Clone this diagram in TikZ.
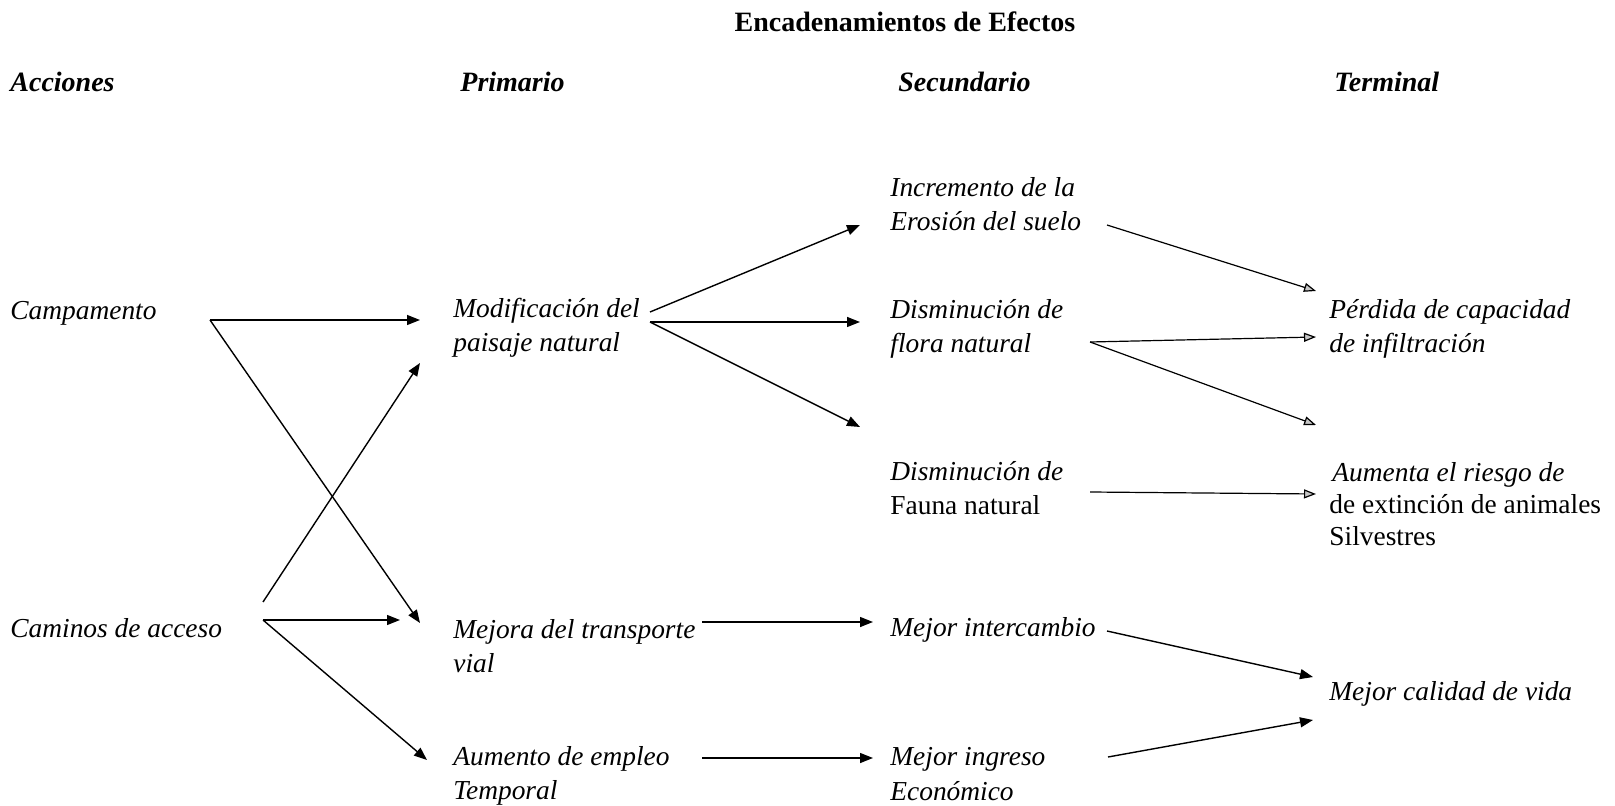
\documentclass[tikz,border=0pt]{standalone}
\usepackage{fontspec}
\setmainfont{Liberation Serif}
\usetikzlibrary{arrows.meta}

\begin{document}
\begin{tikzpicture}[
    x=0.5pt, y=-0.5pt,
    txt/.style={anchor=west, inner sep=0pt, align=left, font=\fontsize{13.7}{17.2}\selectfont\itshape},
    hdr/.style={anchor=west, inner sep=0pt, font=\fontsize{14}{16}\selectfont\bfseries\itshape},
    arr/.style={-{Triangle[length=6.5pt, width=5pt]}, line width=0.7pt},
    arrT/.style={-{Triangle[length=6pt, width=4.5pt, fill=gray!45]}, line width=0.6pt},
]
\useasboundingbox (0,0) rectangle (1615,806);

% Title and column headers
\node[inner sep=0pt, font=\fontsize{14}{16}\selectfont\bfseries] (title) at (905,22) {Encadenamientos de Efectos};
\node[hdr] (hAcc) at (10,82) {Acciones};
\node[hdr] (hPri) at (460,82) {Primario};
\node[hdr] (hSec) at (898,82) {Secundario};
\node[hdr] (hTer) at (1334,82) {Terminal};

% Actions
\node[txt] (camp) at (10,313) {Campamento};
\node[txt] (caminos) at (10,628) {Caminos de acceso};

% Primary effects
\node[txt] (modif) at (453,328) {Modificación del\\paisaje natural};
\node[txt] (mejora) at (453,646) {Mejora del transporte\\vial};
\node[txt] (aumento) at (453,776) {Aumento de empleo\\Temporal};

% Secondary effects
\node[txt] (erosion) at (890,204) {Incremento de la\\Erosión del suelo};
\node[txt] (flora) at (890,329) {Disminución de\\flora natural};
\node[txt] (fauna) at (890,488) {Disminución de\\\textup{Fauna natural}};
\node[txt] (intercambio) at (890,630) {Mejor intercambio};
\node[txt] (ingreso) at (890,774) {Mejor ingreso\\Económico};

% Terminal effects
\node[txt] (perdida) at (1329,329) {Pérdida de capacidad\\de infiltración};
\node[txt, font=\fontsize{13.7}{16}\selectfont\itshape] (riesgo) at (1329,504) {\hspace*{1.5pt}Aumenta el riesgo de\\\textup{de extinción de animales}\\\textup{Silvestres}};
\node[txt] (calidad) at (1329,694) {Mejor calidad de vida};

% Arrow ports
\coordinate (campO) at (210,320);
\coordinate (camO1) at (263,602);
\coordinate (camO) at (263,620);
\coordinate (modI) at (420,320);
\coordinate (modI2) at (420,363);
\coordinate (mejI) at (420,623);
\coordinate (mejI2) at (400,620);
\coordinate (aumI) at (427,760);
\coordinate (modO1) at (650,312);
\coordinate (modO) at (650,322);
\coordinate (eroI) at (860,225);
\coordinate (floI) at (860,322);
\coordinate (gapI) at (860,427);
\coordinate (mejO) at (702,622);
\coordinate (intI) at (873,622);
\coordinate (aumO) at (702,758);
\coordinate (ingI) at (873,758);
\coordinate (eroO) at (1107,225);
\coordinate (floO) at (1090,342);
\coordinate (fauO) at (1090,492);
\coordinate (intO) at (1107,631);
\coordinate (ingO) at (1108,757);
\coordinate (perI1) at (1316,291);
\coordinate (perI) at (1316,337);
\coordinate (gapT) at (1316,425);
\coordinate (riesI) at (1316,494);
\coordinate (calI1) at (1313,677);
\coordinate (calI2) at (1313,720);

% Actions -> primary
\draw[arr] (campO) -- (modI);
\draw[arr] (campO) -- (mejI);
\draw[arr] (camO1) -- (modI2);
\draw[arr] (camO) -- (mejI2);
\draw[arr] (camO) -- (aumI);

% Primary -> secondary
\draw[arr] (modO1) -- (eroI);
\draw[arr] (modO) -- (floI);
\draw[arr] (modO) -- (gapI);
\draw[arr] (mejO) -- (intI);
\draw[arr] (aumO) -- (ingI);

% Secondary -> terminal
\draw[arrT] (eroO) -- (perI1);
\draw[arrT] (floO) -- (perI);
\draw[arrT] (floO) -- (gapT);
\draw[arrT] (fauO) -- (riesI);
\draw[arr] (intO) -- (calI1);
\draw[arr] (ingO) -- (calI2);
\end{tikzpicture}
\end{document}
